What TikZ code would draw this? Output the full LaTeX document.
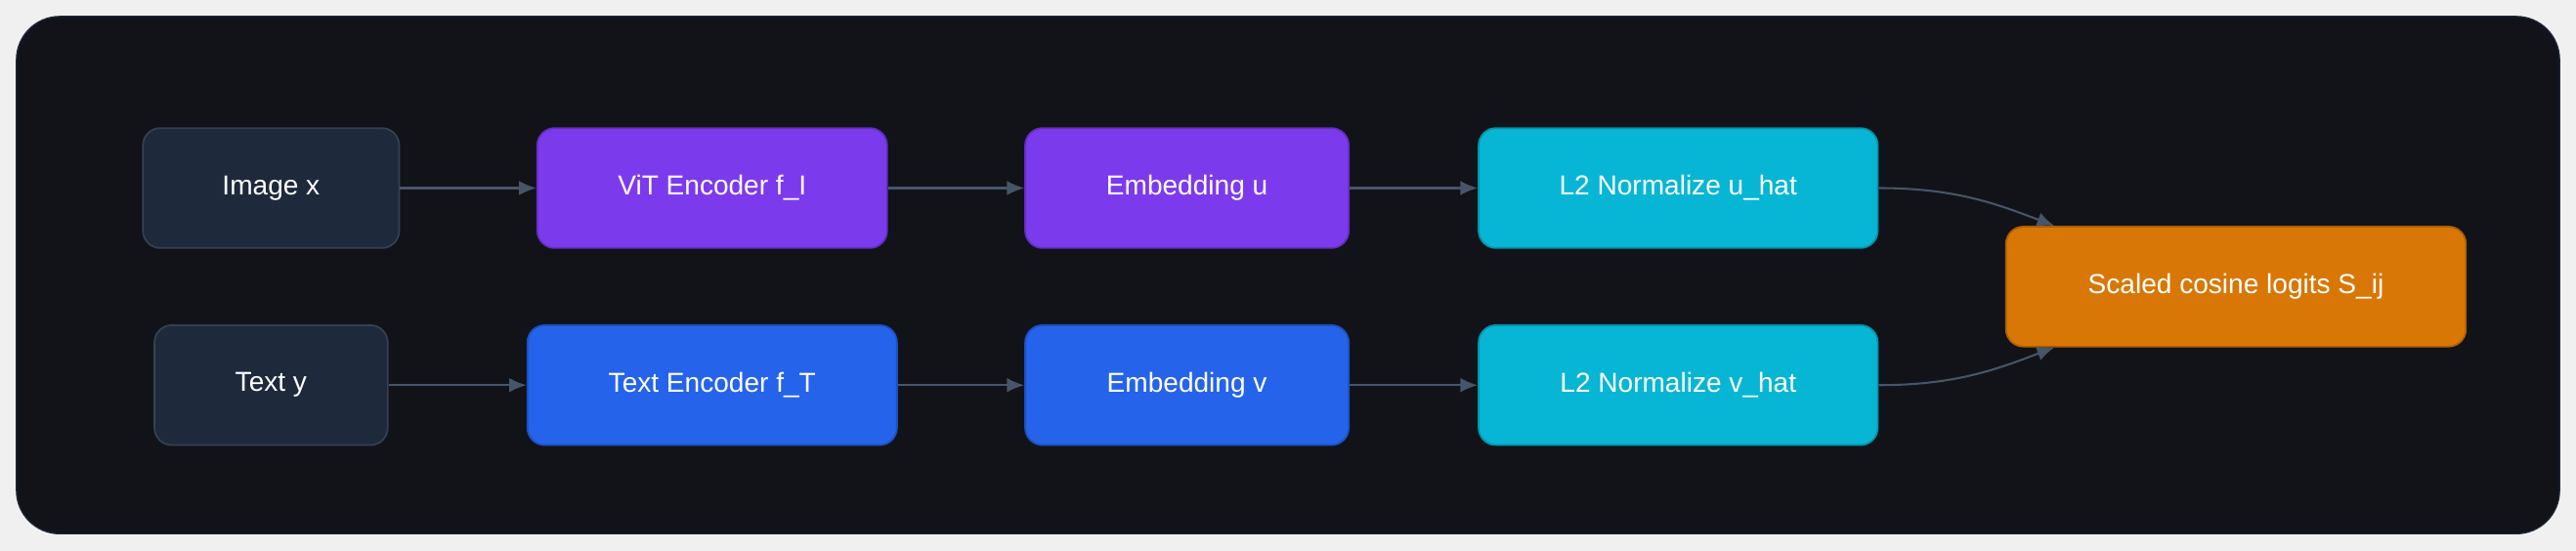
\documentclass[tikz,border=0pt]{standalone}
\usepackage{fontspec}
\setmainfont{Liberation Sans}
\usepackage{xcolor}
\usetikzlibrary{arrows.meta}
\definecolor{bgdark}{HTML}{111318}
\definecolor{slate}{HTML}{1E293B}
\definecolor{slateline}{HTML}{334155}
\definecolor{vio}{HTML}{7C3AED}
\definecolor{royal}{HTML}{2563EB}
\definecolor{teal}{HTML}{06B6D4}
\definecolor{amber}{HTML}{D97706}
\definecolor{wire}{HTML}{475569}

\tikzset{
  box/.style={draw, rounded corners=6pt, minimum height=1.46cm, text=white,
    font=\fontsize{9.5}{11}\selectfont, line width=0.6pt},
  inbox/.style={box, fill=slate, draw=slateline},
  vitbox/.style={box, fill=vio, draw=vio!80!black},
  txtbox/.style={box, fill=royal, draw=royal!80!black},
  normbox/.style={box, fill=teal, draw=teal!80!black},
  logitbox/.style={box, fill=amber, draw=amber!80!black},
  flow/.style={draw=wire, line width=0.7pt, -{Latex[length=6pt,width=5pt]}}
}

\begin{document}
\begin{tikzpicture}[x=0.02cm, y=-0.02cm]
\useasboundingbox (0,0) rectangle (1568,335.3);
\fill[gray!12] (0,0) rectangle (1568,335.3);
\draw[fill=bgdark, draw=slate, rounded corners=15pt] (10,10) rectangle (1558,325);

\node[inbox, minimum width=3.12cm] (img) at (165,114.5) {Image x};
\node[vitbox, minimum width=4.26cm] (vitenc) at (433.5,114.5) {ViT Encoder f\_I};
\node[vitbox, minimum width=3.94cm] (embu) at (722.5,114.5) {Embedding u};
\node[normbox, minimum width=4.86cm] (normu) at (1021.5,114.5) {L2 Normalize u\_hat};

\node[inbox, minimum width=2.84cm] (txt) at (165,234.5) {Text y};
\node[txtbox, minimum width=4.5cm] (txtenc) at (433.5,234.5) {Text Encoder f\_T};
\node[txtbox, minimum width=3.94cm] (embv) at (722.5,234.5) {Embedding v};
\node[normbox, minimum width=4.86cm] (normv) at (1021.5,234.5) {L2 Normalize v\_hat};

\node[logitbox, minimum width=5.6cm] (logits) at (1361,174.5) {Scaled cosine logits S\_ij};

\draw[flow] (img) -- (vitenc);
\draw[flow] (vitenc) -- (embu);
\draw[flow] (embu) -- (normu);
\draw[flow] (txt) -- (txtenc);
\draw[flow] (txtenc) -- (embv);
\draw[flow] (embv) -- (normv);
\draw[flow] (normu.east) .. controls (1190,114.5) and (1215,124) .. ([xshift=0.6cm]logits.north west);
\draw[flow] (normv.east) .. controls (1190,234.5) and (1215,225) .. ([xshift=0.6cm]logits.south west);
\end{tikzpicture}
\end{document}
